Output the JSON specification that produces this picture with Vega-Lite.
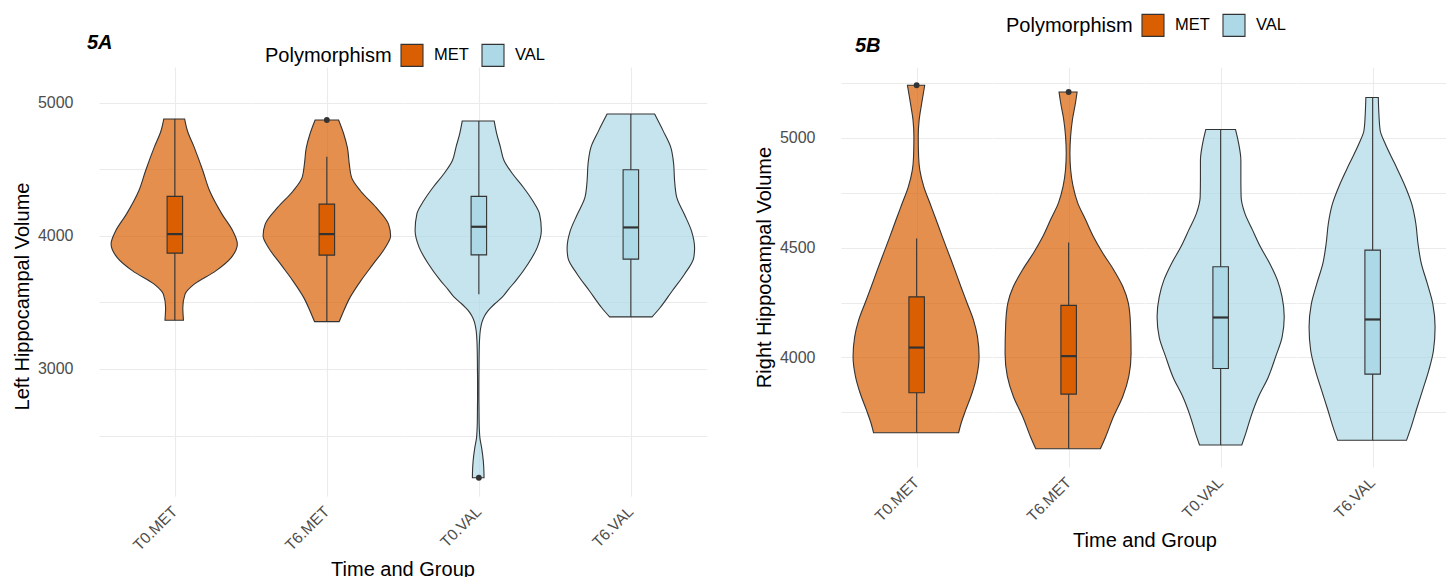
{
"$schema": "https://vega.github.io/schema/vega-lite/v6.json",
"padding": {"left": 12, "top": 13, "right": 0, "bottom": 0},
"config": {
  "font": "Liberation Sans",
  "view": {"stroke": null},
  "axis": {"labelColor": "#4D4D4D", "labelFontSize": 16, "titleFontSize": 20, "titleFontWeight": "normal", "titleColor": "#000000", "gridColor": "#EBEBEB", "gridWidth": 1.1, "domain": false, "ticks": false}
},
"datasets": {
"A": [
{"g":"T0.MET","pol":"MET","part":"v","value":4877,"density":0.164},
{"g":"T0.MET","pol":"MET","part":"v","value":4789,"density":0.207},
{"g":"T0.MET","pol":"MET","part":"v","value":4664,"density":0.314},
{"g":"T0.MET","pol":"MET","part":"v","value":4489,"density":0.449},
{"g":"T0.MET","pol":"MET","part":"v","value":4338,"density":0.555},
{"g":"T0.MET","pol":"MET","part":"v","value":4163,"density":0.749},
{"g":"T0.MET","pol":"MET","part":"v","value":4038,"density":0.917},
{"g":"T0.MET","pol":"MET","part":"v","value":3938,"density":0.990},
{"g":"T0.MET","pol":"MET","part":"v","value":3837,"density":0.894},
{"g":"T0.MET","pol":"MET","part":"v","value":3737,"density":0.652},
{"g":"T0.MET","pol":"MET","part":"v","value":3637,"density":0.314},
{"g":"T0.MET","pol":"MET","part":"v","value":3562,"density":0.170},
{"g":"T0.MET","pol":"MET","part":"v","value":3461,"density":0.135},
{"g":"T0.MET","pol":"MET","part":"v","value":3366,"density":0.145},
{"g":"T6.MET","pol":"MET","part":"v","value":4870,"density":0.184},
{"g":"T6.MET","pol":"MET","part":"v","value":4765,"density":0.265},
{"g":"T6.MET","pol":"MET","part":"v","value":4660,"density":0.323},
{"g":"T6.MET","pol":"MET","part":"v","value":4539,"density":0.352},
{"g":"T6.MET","pol":"MET","part":"v","value":4439,"density":0.387},
{"g":"T6.MET","pol":"MET","part":"v","value":4335,"density":0.532},
{"g":"T6.MET","pol":"MET","part":"v","value":4213,"density":0.772},
{"g":"T6.MET","pol":"MET","part":"v","value":4088,"density":0.967},
{"g":"T6.MET","pol":"MET","part":"v","value":4000,"density":1.0},
{"g":"T6.MET","pol":"MET","part":"v","value":3912,"density":0.917},
{"g":"T6.MET","pol":"MET","part":"v","value":3787,"density":0.725},
{"g":"T6.MET","pol":"MET","part":"v","value":3662,"density":0.532},
{"g":"T6.MET","pol":"MET","part":"v","value":3536,"density":0.362},
{"g":"T6.MET","pol":"MET","part":"v","value":3411,"density":0.242},
{"g":"T6.MET","pol":"MET","part":"v","value":3356,"density":0.193},
{"g":"T0.VAL","pol":"VAL","part":"v","value":4862,"density":0.251},
{"g":"T0.VAL","pol":"VAL","part":"v","value":4768,"density":0.290},
{"g":"T0.VAL","pol":"VAL","part":"v","value":4667,"density":0.348},
{"g":"T0.VAL","pol":"VAL","part":"v","value":4564,"density":0.406},
{"g":"T0.VAL","pol":"VAL","part":"v","value":4464,"density":0.541},
{"g":"T0.VAL","pol":"VAL","part":"v","value":4363,"density":0.710},
{"g":"T0.VAL","pol":"VAL","part":"v","value":4263,"density":0.855},
{"g":"T0.VAL","pol":"VAL","part":"v","value":4166,"density":0.961},
{"g":"T0.VAL","pol":"VAL","part":"v","value":4041,"density":0.990},
{"g":"T0.VAL","pol":"VAL","part":"v","value":3915,"density":0.928},
{"g":"T0.VAL","pol":"VAL","part":"v","value":3790,"density":0.783},
{"g":"T0.VAL","pol":"VAL","part":"v","value":3665,"density":0.594},
{"g":"T0.VAL","pol":"VAL","part":"v","value":3600,"density":0.478},
{"g":"T0.VAL","pol":"VAL","part":"v","value":3539,"density":0.377},
{"g":"T0.VAL","pol":"VAL","part":"v","value":3490,"density":0.261},
{"g":"T0.VAL","pol":"VAL","part":"v","value":3440,"density":0.159},
{"g":"T0.VAL","pol":"VAL","part":"v","value":3400,"density":0.101},
{"g":"T0.VAL","pol":"VAL","part":"v","value":3350,"density":0.058},
{"g":"T0.VAL","pol":"VAL","part":"v","value":3300,"density":0.036},
{"g":"T0.VAL","pol":"VAL","part":"v","value":3200,"density":0.019},
{"g":"T0.VAL","pol":"VAL","part":"v","value":3100,"density":0.014},
{"g":"T0.VAL","pol":"VAL","part":"v","value":3000,"density":0.012},
{"g":"T0.VAL","pol":"VAL","part":"v","value":2900,"density":0.010},
{"g":"T0.VAL","pol":"VAL","part":"v","value":2800,"density":0.010},
{"g":"T0.VAL","pol":"VAL","part":"v","value":2700,"density":0.012},
{"g":"T0.VAL","pol":"VAL","part":"v","value":2600,"density":0.014},
{"g":"T0.VAL","pol":"VAL","part":"v","value":2534,"density":0.019},
{"g":"T0.VAL","pol":"VAL","part":"v","value":2484,"density":0.026},
{"g":"T0.VAL","pol":"VAL","part":"v","value":2408,"density":0.054},
{"g":"T0.VAL","pol":"VAL","part":"v","value":2308,"density":0.080},
{"g":"T0.VAL","pol":"VAL","part":"v","value":2220,"density":0.090},
{"g":"T0.VAL","pol":"VAL","part":"v","value":2183,"density":0.091},
{"g":"T6.VAL","pol":"VAL","part":"v","value":4915,"density":0.372},
{"g":"T6.VAL","pol":"VAL","part":"v","value":4792,"density":0.503},
{"g":"T6.VAL","pol":"VAL","part":"v","value":4670,"density":0.623},
{"g":"T6.VAL","pol":"VAL","part":"v","value":4542,"density":0.671},
{"g":"T6.VAL","pol":"VAL","part":"v","value":4414,"density":0.686},
{"g":"T6.VAL","pol":"VAL","part":"v","value":4288,"density":0.720},
{"g":"T6.VAL","pol":"VAL","part":"v","value":4160,"density":0.841},
{"g":"T6.VAL","pol":"VAL","part":"v","value":4035,"density":0.952},
{"g":"T6.VAL","pol":"VAL","part":"v","value":3909,"density":1.0},
{"g":"T6.VAL","pol":"VAL","part":"v","value":3834,"density":0.986},
{"g":"T6.VAL","pol":"VAL","part":"v","value":3712,"density":0.841},
{"g":"T6.VAL","pol":"VAL","part":"v","value":3586,"density":0.648},
{"g":"T6.VAL","pol":"VAL","part":"v","value":3458,"density":0.454},
{"g":"T6.VAL","pol":"VAL","part":"v","value":3391,"density":0.333},
{"g":"T0.MET","pol":"MET","part":"b","lo":3366,"q1":3870,"med":4013,"q3":4296,"hi":4877},
{"g":"T6.MET","pol":"MET","part":"b","lo":3356,"q1":3855,"med":4013,"q3":4238,"hi":4594},
{"g":"T0.VAL","pol":"VAL","part":"b","lo":3562,"q1":3857,"med":4068,"q3":4296,"hi":4862},
{"g":"T6.VAL","pol":"VAL","part":"b","lo":3391,"q1":3825,"med":4063,"q3":4496,"hi":4915},
{"g":"T6.MET","pol":"MET","part":"o","value":4870},
{"g":"T0.VAL","pol":"VAL","part":"o","value":2183}
],
"B": [
{"g":"T0.MET","pol":"MET","part":"v","value":5240,"density":0.136},
{"g":"T0.MET","pol":"MET","part":"v","value":5157,"density":0.088},
{"g":"T0.MET","pol":"MET","part":"v","value":5081,"density":0.048},
{"g":"T0.MET","pol":"MET","part":"v","value":5005,"density":0.034},
{"g":"T0.MET","pol":"MET","part":"v","value":4913,"density":0.040},
{"g":"T0.MET","pol":"MET","part":"v","value":4853,"density":0.059},
{"g":"T0.MET","pol":"MET","part":"v","value":4777,"density":0.122},
{"g":"T0.MET","pol":"MET","part":"v","value":4701,"density":0.220},
{"g":"T0.MET","pol":"MET","part":"v","value":4625,"density":0.318},
{"g":"T0.MET","pol":"MET","part":"v","value":4549,"density":0.414},
{"g":"T0.MET","pol":"MET","part":"v","value":4474,"density":0.512},
{"g":"T0.MET","pol":"MET","part":"v","value":4398,"density":0.611},
{"g":"T0.MET","pol":"MET","part":"v","value":4321,"density":0.707},
{"g":"T0.MET","pol":"MET","part":"v","value":4246,"density":0.805},
{"g":"T0.MET","pol":"MET","part":"v","value":4170,"density":0.903},
{"g":"T0.MET","pol":"MET","part":"v","value":4094,"density":0.966},
{"g":"T0.MET","pol":"MET","part":"v","value":4003,"density":0.991},
{"g":"T0.MET","pol":"MET","part":"v","value":3912,"density":0.952},
{"g":"T0.MET","pol":"MET","part":"v","value":3836,"density":0.878},
{"g":"T0.MET","pol":"MET","part":"v","value":3760,"density":0.780},
{"g":"T0.MET","pol":"MET","part":"v","value":3699,"density":0.707},
{"g":"T0.MET","pol":"MET","part":"v","value":3657,"density":0.669},
{"g":"T6.MET","pol":"MET","part":"v","value":5209,"density":0.142},
{"g":"T6.MET","pol":"MET","part":"v","value":5160,"density":0.117},
{"g":"T6.MET","pol":"MET","part":"v","value":5084,"density":0.069},
{"g":"T6.MET","pol":"MET","part":"v","value":5008,"density":0.040},
{"g":"T6.MET","pol":"MET","part":"v","value":4929,"density":0.029},
{"g":"T6.MET","pol":"MET","part":"v","value":4856,"density":0.040},
{"g":"T6.MET","pol":"MET","part":"v","value":4780,"density":0.078},
{"g":"T6.MET","pol":"MET","part":"v","value":4704,"density":0.151},
{"g":"T6.MET","pol":"MET","part":"v","value":4628,"density":0.274},
{"g":"T6.MET","pol":"MET","part":"v","value":4552,"density":0.395},
{"g":"T6.MET","pol":"MET","part":"v","value":4477,"density":0.542},
{"g":"T6.MET","pol":"MET","part":"v","value":4401,"density":0.713},
{"g":"T6.MET","pol":"MET","part":"v","value":4324,"density":0.859},
{"g":"T6.MET","pol":"MET","part":"v","value":4249,"density":0.947},
{"g":"T6.MET","pol":"MET","part":"v","value":4155,"density":0.981},
{"g":"T6.MET","pol":"MET","part":"v","value":4018,"density":0.991},
{"g":"T6.MET","pol":"MET","part":"v","value":3915,"density":0.956},
{"g":"T6.MET","pol":"MET","part":"v","value":3821,"density":0.859},
{"g":"T6.MET","pol":"MET","part":"v","value":3730,"density":0.713},
{"g":"T6.MET","pol":"MET","part":"v","value":3638,"density":0.590},
{"g":"T6.MET","pol":"MET","part":"v","value":3584,"density":0.508},
{"g":"T0.VAL","pol":"VAL","part":"v","value":5038,"density":0.234},
{"g":"T0.VAL","pol":"VAL","part":"v","value":4975,"density":0.283},
{"g":"T0.VAL","pol":"VAL","part":"v","value":4898,"density":0.318},
{"g":"T0.VAL","pol":"VAL","part":"v","value":4807,"density":0.318},
{"g":"T0.VAL","pol":"VAL","part":"v","value":4731,"density":0.322},
{"g":"T0.VAL","pol":"VAL","part":"v","value":4656,"density":0.381},
{"g":"T0.VAL","pol":"VAL","part":"v","value":4580,"density":0.502},
{"g":"T0.VAL","pol":"VAL","part":"v","value":4504,"density":0.625},
{"g":"T0.VAL","pol":"VAL","part":"v","value":4428,"density":0.772},
{"g":"T0.VAL","pol":"VAL","part":"v","value":4352,"density":0.893},
{"g":"T0.VAL","pol":"VAL","part":"v","value":4276,"density":0.966},
{"g":"T0.VAL","pol":"VAL","part":"v","value":4185,"density":1.0},
{"g":"T0.VAL","pol":"VAL","part":"v","value":4091,"density":0.966},
{"g":"T0.VAL","pol":"VAL","part":"v","value":4006,"density":0.868},
{"g":"T0.VAL","pol":"VAL","part":"v","value":3909,"density":0.747},
{"g":"T0.VAL","pol":"VAL","part":"v","value":3824,"density":0.600},
{"g":"T0.VAL","pol":"VAL","part":"v","value":3733,"density":0.479},
{"g":"T0.VAL","pol":"VAL","part":"v","value":3654,"density":0.395},
{"g":"T0.VAL","pol":"VAL","part":"v","value":3601,"density":0.332},
{"g":"T6.VAL","pol":"VAL","part":"v","value":5184,"density":0.098},
{"g":"T6.VAL","pol":"VAL","part":"v","value":5111,"density":0.107},
{"g":"T6.VAL","pol":"VAL","part":"v","value":5035,"density":0.127},
{"g":"T6.VAL","pol":"VAL","part":"v","value":4972,"density":0.209},
{"g":"T6.VAL","pol":"VAL","part":"v","value":4883,"density":0.356},
{"g":"T6.VAL","pol":"VAL","part":"v","value":4792,"density":0.502},
{"g":"T6.VAL","pol":"VAL","part":"v","value":4698,"density":0.625},
{"g":"T6.VAL","pol":"VAL","part":"v","value":4610,"density":0.688},
{"g":"T6.VAL","pol":"VAL","part":"v","value":4519,"density":0.722},
{"g":"T6.VAL","pol":"VAL","part":"v","value":4431,"density":0.772},
{"g":"T6.VAL","pol":"VAL","part":"v","value":4337,"density":0.868},
{"g":"T6.VAL","pol":"VAL","part":"v","value":4243,"density":0.956},
{"g":"T6.VAL","pol":"VAL","part":"v","value":4139,"density":0.991},
{"g":"T6.VAL","pol":"VAL","part":"v","value":4033,"density":0.966},
{"g":"T6.VAL","pol":"VAL","part":"v","value":3942,"density":0.893},
{"g":"T6.VAL","pol":"VAL","part":"v","value":3851,"density":0.795},
{"g":"T6.VAL","pol":"VAL","part":"v","value":3763,"density":0.698},
{"g":"T6.VAL","pol":"VAL","part":"v","value":3684,"density":0.615},
{"g":"T6.VAL","pol":"VAL","part":"v","value":3623,"density":0.542},
{"g":"T0.MET","pol":"MET","part":"b","lo":3657,"q1":3839,"med":4045,"q3":4276,"hi":4542},
{"g":"T6.MET","pol":"MET","part":"b","lo":3584,"q1":3833,"med":4006,"q3":4237,"hi":4524},
{"g":"T0.VAL","pol":"VAL","part":"b","lo":3601,"q1":3950,"med":4182,"q3":4413,"hi":5038},
{"g":"T6.VAL","pol":"VAL","part":"b","lo":3623,"q1":3924,"med":4173,"q3":4489,"hi":5184},
{"g":"T0.MET","pol":"MET","part":"o","value":5240},
{"g":"T6.MET","pol":"MET","part":"o","value":5209}
]
},
"spacing": 47,
"resolve": {"scale": {"color": "independent", "x": "independent", "y": "independent"}, "legend": {"color": "independent"}},
"hconcat": [
{
  "data": {"name": "A"},
  "title": {"text": "5A", "anchor": "start", "frame": "group", "fontSize": 20, "fontStyle": "italic", "fontWeight": "bold", "color": "#000000", "dx": -12, "dy": 14},
  "facet": {"column": {"field": "g", "type": "nominal", "sort": ["T0.MET", "T6.MET", "T0.VAL", "T6.VAL"], "title": "Time and Group",
    "header": {"labelOrient": "bottom", "titleOrient": "bottom", "labelAngle": -45, "labelAlign": "right", "labelBaseline": "middle", "labelFontSize": 15.5, "labelColor": "#4D4D4D", "labelPadding": 13, "titleFontSize": 20, "titleFontWeight": "normal", "titleColor": "#000000", "titlePadding": -4}}},
  "spacing": 0,
  "spec": {
    "width": 151.7, "height": 429,
    "layer": [
      {"transform": [{"filter": "datum.part === 'v'"}],
       "mark": {"type": "area", "orient": "horizontal", "interpolate": "monotone", "fillOpacity": 0.7, "stroke": "#333333", "strokeWidth": 1.1},
       "encoding": {
         "y": {"field": "value", "type": "quantitative", "title": "Left Hippocampal Volume", "scale": {"domain": [2046, 5268], "nice": false, "zero": false},
               "axis": {"values": [2500, 3000, 3500, 4000, 4500, 5000], "format": "d", "labelExpr": "datum.value % 1000 === 0 ? datum.label : ''", "labelPadding": 26, "titlePadding": 5, "titleY": 229}},
         "x": {"field": "density", "type": "quantitative", "stack": "center", "impute": null, "title": null, "scale": {"domain": [-0.0556, 1.0556], "nice": false, "zero": false},
               "axis": {"values": [0.5], "grid": true, "labels": false, "ticks": false, "domain": false}},
         "color": {"field": "pol", "type": "nominal", "scale": {"domain": ["MET", "VAL"], "range": ["#D95F02", "#ADD8E6"]},
               "legend": {"orient": "none", "legendX": 166, "legendY": -24, "direction": "horizontal", "title": "Polymorphism", "titleOrient": "left", "titleFontSize": 20, "titleFontWeight": "normal", "titleColor": "#000000", "labelFontSize": 16.5, "labelColor": "#000000", "symbolType": "square", "symbolSize": 484, "symbolStrokeColor": "#333333", "symbolStrokeWidth": 1.1, "symbolOpacity": 1, "labelOffset": 10, "columnPadding": 10, "titlePadding": 8}}
       }},
      {"transform": [{"filter": "datum.part === 'b'"}],
       "mark": {"type": "rule", "color": "#333333", "strokeWidth": 1.1},
       "encoding": {"x": {"datum": 0.5, "type": "quantitative", "title": null}, "y": {"field": "lo", "type": "quantitative", "title": "Left Hippocampal Volume"}, "y2": {"field": "hi"}}},
      {"transform": [{"filter": "datum.part === 'b'"}],
       "mark": {"type": "bar", "size": 15.5, "stroke": "#333333", "strokeWidth": 1.1, "opacity": 1},
       "encoding": {"x": {"datum": 0.5, "type": "quantitative", "title": null}, "y": {"field": "q1", "type": "quantitative", "title": "Left Hippocampal Volume"}, "y2": {"field": "q3"}, "color": {"field": "pol", "type": "nominal", "legend": null}}},
      {"transform": [{"filter": "datum.part === 'b'"}],
       "mark": {"type": "tick", "orient": "horizontal", "size": 15.5, "thickness": 2.2, "color": "#333333", "opacity": 1},
       "encoding": {"x": {"datum": 0.5, "type": "quantitative", "title": null}, "y": {"field": "med", "type": "quantitative", "title": "Left Hippocampal Volume"}}},
      {"transform": [{"filter": "datum.part === 'o'"}],
       "mark": {"type": "point", "filled": true, "size": 34, "color": "#333333", "opacity": 1},
       "encoding": {"x": {"datum": 0.5, "type": "quantitative", "title": null}, "y": {"field": "value", "type": "quantitative", "title": "Left Hippocampal Volume"}}}
    ]
  }
},
{
  "data": {"name": "B"},
  "title": {"text": "5B", "anchor": "start", "frame": "group", "fontSize": 20, "fontStyle": "italic", "fontWeight": "bold", "color": "#000000", "dx": 14, "dy": 47},
  "facet": {"column": {"field": "g", "type": "nominal", "sort": ["T0.MET", "T6.MET", "T0.VAL", "T6.VAL"], "title": "Time and Group",
    "header": {"labelOrient": "bottom", "titleOrient": "bottom", "labelAngle": -45, "labelAlign": "right", "labelBaseline": "middle", "labelFontSize": 15.5, "labelColor": "#4D4D4D", "labelPadding": 13, "titleFontSize": 20, "titleFontWeight": "normal", "titleColor": "#000000", "titlePadding": -4}}},
  "spacing": 0,
  "spec": {
    "width": 151.3, "height": 400,
    "layer": [
      {"transform": [{"filter": "datum.part === 'v'"}],
       "mark": {"type": "area", "orient": "horizontal", "interpolate": "monotone", "fillOpacity": 0.7, "stroke": "#333333", "strokeWidth": 1.1},
       "encoding": {
         "y": {"field": "value", "type": "quantitative", "title": "Right Hippocampal Volume", "scale": {"domain": [3501, 5323], "nice": false, "zero": false},
               "axis": {"values": [3750, 4000, 4250, 4500, 4750, 5000, 5250], "format": "d", "labelExpr": "datum.value % 500 === 0 ? datum.label : ''", "labelPadding": 26, "titlePadding": 5}},
         "x": {"field": "density", "type": "quantitative", "stack": "center", "impute": null, "title": null, "scale": {"domain": [-0.0556, 1.0556], "nice": false, "zero": false},
               "axis": {"values": [0.5], "grid": true, "labels": false, "ticks": false, "domain": false}},
         "color": {"field": "pol", "type": "nominal", "scale": {"domain": ["MET", "VAL"], "range": ["#D95F02", "#ADD8E6"]},
               "legend": {"orient": "none", "legendX": 165, "legendY": -54, "direction": "horizontal", "title": "Polymorphism", "titleOrient": "left", "titleFontSize": 20, "titleFontWeight": "normal", "titleColor": "#000000", "labelFontSize": 16.5, "labelColor": "#000000", "symbolType": "square", "symbolSize": 484, "symbolStrokeColor": "#333333", "symbolStrokeWidth": 1.1, "symbolOpacity": 1, "labelOffset": 10, "columnPadding": 10, "titlePadding": 8}}
       }},
      {"transform": [{"filter": "datum.part === 'b'"}],
       "mark": {"type": "rule", "color": "#333333", "strokeWidth": 1.1},
       "encoding": {"x": {"datum": 0.5, "type": "quantitative", "title": null}, "y": {"field": "lo", "type": "quantitative", "title": "Right Hippocampal Volume"}, "y2": {"field": "hi"}}},
      {"transform": [{"filter": "datum.part === 'b'"}],
       "mark": {"type": "bar", "size": 15.5, "stroke": "#333333", "strokeWidth": 1.1, "opacity": 1},
       "encoding": {"x": {"datum": 0.5, "type": "quantitative", "title": null}, "y": {"field": "q1", "type": "quantitative", "title": "Right Hippocampal Volume"}, "y2": {"field": "q3"}, "color": {"field": "pol", "type": "nominal", "legend": null}}},
      {"transform": [{"filter": "datum.part === 'b'"}],
       "mark": {"type": "tick", "orient": "horizontal", "size": 15.5, "thickness": 2.2, "color": "#333333", "opacity": 1},
       "encoding": {"x": {"datum": 0.5, "type": "quantitative", "title": null}, "y": {"field": "med", "type": "quantitative", "title": "Right Hippocampal Volume"}}},
      {"transform": [{"filter": "datum.part === 'o'"}],
       "mark": {"type": "point", "filled": true, "size": 34, "color": "#333333", "opacity": 1},
       "encoding": {"x": {"datum": 0.5, "type": "quantitative", "title": null}, "y": {"field": "value", "type": "quantitative", "title": "Right Hippocampal Volume"}}}
    ]
  }
}
]
}
